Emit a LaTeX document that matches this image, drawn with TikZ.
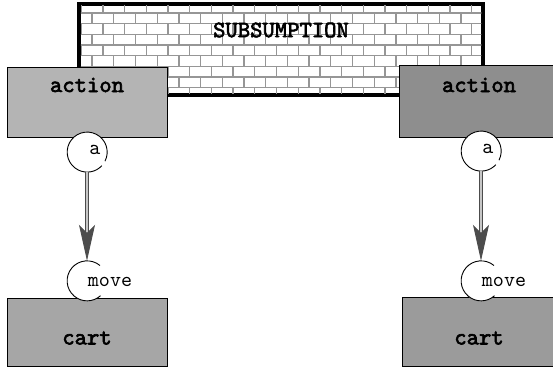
\documentclass[tikz,border=0pt]{standalone}
\usepackage{fontspec}
\setmonofont{lmmono10-regular.otf}[BoldFont=lmmono10-regular.otf,BoldFeatures={FakeBold=2.6}]
\usetikzlibrary{arrows.meta,positioning}
\definecolor{actlight}{RGB}{180,180,180}
\definecolor{actdark}{RGB}{142,142,142}
\definecolor{cartlight}{RGB}{166,166,166}
\definecolor{cartdark}{RGB}{155,155,155}
\definecolor{mortar}{RGB}{150,150,150}

\begin{document}
\begin{tikzpicture}[x=1pt,y=1pt,
    wall/.style={draw,line width=3.5pt,fill=white,minimum width=404pt,minimum height=91pt,inner sep=0pt},
    module/.style={draw,line width=1pt,minimum width=160pt,minimum height=70pt,inner sep=0pt},
    port/.style={circle,fill=white,minimum size=40pt,inner sep=0pt},
    portline/.style={line width=0.9pt},
    boxtext/.style={font=\ttfamily\bfseries\fontsize{23.5}{26}\selectfont,inner sep=0pt},
    porttext/.style={font=\ttfamily\fontsize{21}{24}\selectfont,inner sep=0pt},
    brick/.style={draw=mortar,line width=1.3pt},
    flow/.style={draw=black!70,double=gray!45,double distance=2.2pt,line width=0.9pt,-{Stealth[length=36pt,width=16pt,inset=8pt]}}
  ]
  \useasboundingbox (0,0) rectangle (553,368);

  % subsumption wall
  \node[wall] (wall) at (281,318.5) {};
  \begin{scope}
    \clip ([shift={(3.5,3.5)}]wall.south west) rectangle ([shift={(-3.5,-3.5)}]wall.north east);
    \foreach \r in {-1,...,7} {
      \pgfmathsetmacro\ytop{355-10.65*\r}
      \pgfmathsetmacro\ybot{\ytop-10.65}
      \pgfmathsetmacro\xoff{16.1+10.85*mod(\r+1,2)}
      \draw[brick] (70,\ytop) -- (490,\ytop);
      \foreach \k in {3,...,22}
        \draw[brick] (\xoff+21.7*\k,\ytop) -- (\xoff+21.7*\k,\ybot);
    }
  \end{scope}
  \node[boxtext] (wallname) at (281,338) {SUBSUMPTION};

  % left column
  \node[module,fill=actlight] (actL) at (87,266) {};
  \node[boxtext] (actLname) at (87,283) {action};
  \node[module,fill=cartlight,minimum height=68pt] (cartL) at (87,36) {};
  \node[boxtext] (cartLname) at (87,30) {cart};
  \node[port] (aL) at (87,216) {};
  \node[port] (mL) at (87,87) {};
  \draw[portline] (aL.-27) arc[start angle=-27,end angle=317,radius=20pt];
  \draw[portline] (mL.50) arc[start angle=50,end angle=312,radius=20pt];
  \node[porttext] (aLname) at (95,218.5) {a};
  \node[porttext] (mLname) at (110,86) {move};
  \draw[flow] (aL) -- (mL);

  % right column
  \node[module,fill=actdark,minimum width=157pt,minimum height=72pt] (actR) at (477.5,267) {};
  \node[boxtext] (actRname) at (479,283) {action};
  \node[module,fill=cartdark,minimum width=154pt,minimum height=69pt] (cartR) at (479,36.5) {};
  \node[boxtext] (cartRname) at (479,30) {cart};
  \node[port] (aR) at (481,217) {};
  \node[port] (mR) at (481,87) {};
  \draw[portline] (aR.-27) arc[start angle=-27,end angle=317,radius=20pt];
  \draw[portline] (mR.50) arc[start angle=50,end angle=312,radius=20pt];
  \node[porttext] (aRname) at (488,219) {a};
  \node[porttext] (mRname) at (504,86) {move};
  \draw[flow] (aR) -- (mR);
\end{tikzpicture}
\end{document}
